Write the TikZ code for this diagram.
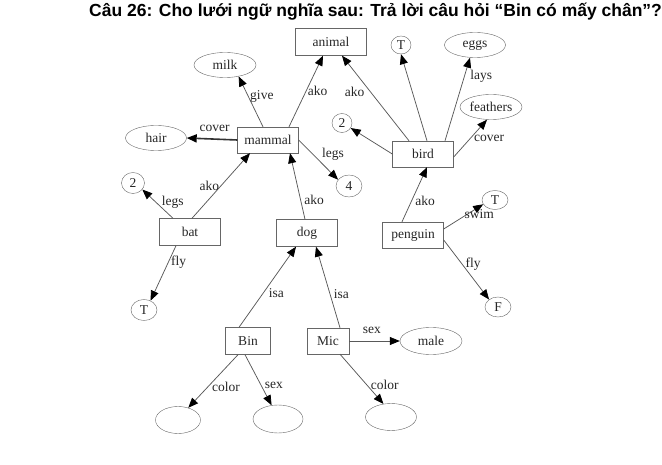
\documentclass[tikz,border=0pt]{standalone}
\usepackage{fontspec}
\setmainfont{Liberation Serif}
\newfontfamily\titlefont{Liberation Sans}
\usetikzlibrary{shapes.geometric,arrows.meta}

\begin{document}
\begin{tikzpicture}[x=1pt, y=-1pt,
  font=\fontsize{13.5}{15}\selectfont, text=black!85,
  box/.style={draw=black!60, minimum width=61pt, minimum height=26pt, inner sep=0pt},
  oval/.style={draw=black!60, ellipse, minimum width=62pt, minimum height=25pt, inner sep=0pt},
  val/.style={draw=black!60, ellipse, minimum width=24pt, minimum height=20pt, inner sep=0pt},
  link/.style={draw=black!65, line width=0.75pt, -{Triangle[length=10pt, width=8pt, color=black]}},
  lbl/.style={inner sep=1.5pt, text=black!85}]

  \useasboundingbox (0,0) rectangle (662,465);

  % Title
  \node[anchor=base west, inner sep=0pt, font=\titlefont\bfseries\fontsize{17.5}{20}\selectfont, text=black] (title) at (89,16.5) {Câu 26: Cho lưới ngữ nghĩa sau: Trả lời câu hỏi “Bin có mấy chân”?};

  % Classes
  \node[box, minimum width=71pt, minimum height=27pt] (animal) at (331,42) {animal};
  \node[box] (mammal) at (268,140) {mammal};
  \node[box] (bird) at (423,154) {bird};
  \node[box, minimum height=27pt] (bat) at (190,232) {bat};
  \node[box, minimum height=27pt] (dog) at (307,233) {dog};
  \node[box] (penguin) at (413,235) {penguin};

  % Instances
  \node[box, minimum width=45pt, minimum height=27pt] (Bin) at (248,341) {Bin};
  \node[box, minimum width=42pt] (Mic) at (328,341) {Mic};

  % Values
  \node[oval] (milk) at (225,65) {milk};
  \node[oval, minimum width=61pt] (hair) at (156,138) {hair};
  \node[oval, minimum width=61pt] (eggs) at (475,45) {eggs};
  \node[oval] (feathers) at (491,107) {feathers};
  \node[oval, minimum height=27pt] (male) at (431,341) {male};
  \node[oval, minimum width=45pt, minimum height=27pt] (bincolor) at (178,420) {};
  \node[oval, minimum width=50pt, minimum height=28pt] (binsex) at (278,419) {};
  \node[oval, minimum width=51pt, minimum height=27pt] (miccolor) at (391,417) {};

  \node[val, minimum width=23pt, minimum height=21pt] (batlegs) at (133,183) {2};
  \node[val, minimum width=26pt, minimum height=22pt] (mamlegs) at (349,186) {4};
  \node[val, minimum width=20pt, minimum height=18pt] (birdfly) at (401,45) {T};
  \node[val, minimum width=20pt, minimum height=19pt] (birdlegs) at (342,123) {2};
  \node[val, minimum width=26pt, minimum height=21pt] (batfly) at (144,310) {T};
  \node[val, minimum width=26pt, minimum height=19pt] (pswim) at (495,200) {T};
  \node[val, minimum width=26pt, minimum height=20pt] (pfly) at (498,307) {F};

  % mammal
  \draw[link] ([xshift=-5pt]mammal.north) -- (milk.-40) node[lbl, pos=0.6, right] {give};
  \draw[link] ([xshift=21pt]mammal.north) -- ([xshift=-8pt]animal.south) node[lbl, pos=0.5, right] {ako};
  \draw[link, line width=1.6pt, draw=black!80] (mammal.west) -- (hair.east) node[lbl, pos=0.45, above=5pt] {cover};
  \draw[link] (mammal.east) -- (mamlegs.150) node[lbl, pos=0.55, above right] {legs};

  % bird
  \draw[link] ([xshift=-14pt]bird.north) -- ([xshift=11pt]animal.south) node[lbl, pos=0.58, left=4pt] {ako};
  \draw[link] ([xshift=4pt]bird.north) -- (birdfly.south);
  \draw[link] ([xshift=22pt]bird.north) -- ([xshift=-5pt]eggs.south) node[lbl, pos=0.78, right=4pt] {lays};
  \draw[link] ([yshift=-3pt]bird.east) -- ([xshift=-4pt]feathers.south) node[lbl, pos=0.5, right=2pt] {cover};
  \draw[link] (bird.west) -- (birdlegs.-30);

  % bat and dog
  \draw[link] ([xshift=2pt]bat.north) -- ([xshift=-18pt]mammal.south) node[lbl, pos=0.5, left] {ako};
  \draw[link] ([xshift=-17pt]bat.north) -- (batlegs.-35) node[lbl, pos=0.55, right=4pt] {legs};
  \draw[link] ([xshift=-14pt]bat.south) -- (batfly.55) node[lbl, pos=0.3, right=1pt] {fly};
  \draw[link] ([xshift=-2pt]dog.north) -- ([xshift=22pt]mammal.south) node[lbl, pos=0.3, right=2pt] {ako};

  % penguin
  \draw[link] ([xshift=-11pt]penguin.north) -- ([xshift=4pt]bird.south) node[lbl, pos=0.38, right=2pt] {ako};
  \draw[link] ([yshift=6pt]penguin.east) -- (pswim.200) node[lbl, pos=0.9, below=1pt] {swim};
  \draw[link] ([yshift=-5pt]penguin.east) -- (pfly.140) node[lbl, pos=0.4, right=2pt] {fly};

  % Bin and Mic
  \draw[link] ([xshift=-9pt]Bin.north) -- ([xshift=-11pt]dog.south) node[lbl, pos=0.42, right=4pt] {isa};
  \draw[link] ([xshift=12pt]Mic.north) -- ([xshift=9pt]dog.south) node[lbl, pos=0.42, right=2pt] {isa};
  \draw[link] (Mic.east) -- (male.west) node[lbl, pos=0.45, above=5pt] {sex};
  \draw[link] ([xshift=-10pt]Bin.south) -- (bincolor.50) node[lbl, pos=0.6, right=2pt] {color};
  \draw[link] ([xshift=-3pt]Bin.south) -- (binsex.115) node[lbl, pos=0.6, right=2pt] {sex};
  \draw[link] ([xshift=12pt]Mic.south) -- (miccolor.120) node[lbl, pos=0.62, right=2pt] {color};

\end{tikzpicture}
\end{document}
